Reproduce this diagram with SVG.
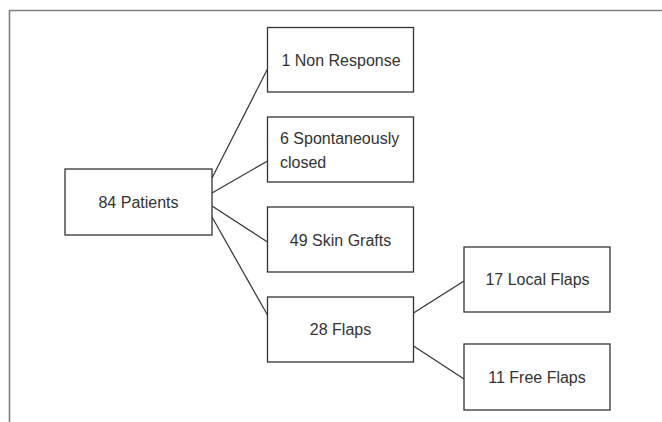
<svg xmlns="http://www.w3.org/2000/svg" width="662" height="422" viewBox="0 0 662 422">
<style>
.box{fill:#fff;stroke:#333;stroke-width:1.3}
.lbl{font-family:"Liberation Sans",Arial,sans-serif;font-size:16px;fill:#333}
.c{text-anchor:middle}
.conn line{stroke:#333;stroke-width:1.2}
</style>
<rect width="662" height="422" fill="#fff"/>
<path d="M9.5,422 V10.5 H662" fill="none" stroke="#808080" stroke-width="1.6"/>
<g id="connectors" class="conn">
<line x1="212" y1="178" x2="267.5" y2="69"/>
<line x1="212" y1="193" x2="267.5" y2="161"/>
<line x1="212" y1="206" x2="267.5" y2="242"/>
<line x1="212" y1="217" x2="267.5" y2="315"/>
<line x1="413.5" y1="313" x2="464" y2="281"/>
<line x1="413.5" y1="346" x2="464" y2="379"/>
</g>
<g id="patients"><rect class="box" x="65" y="169" width="147" height="66"/><text class="lbl c" x="138.5" y="207.5">84 Patients</text></g>
<g id="nonresponse"><rect class="box" x="267.5" y="27.5" width="146" height="64.5"/><text class="lbl c" x="341" y="65.5">1 Non Response</text></g>
<g id="spontaneous"><rect class="box" x="267.5" y="117" width="146" height="65"/><text class="lbl" x="280" y="144.3">6 Spontaneously</text><text class="lbl" x="280" y="168.3">closed</text></g>
<g id="skingrafts"><rect class="box" x="267.5" y="207" width="146" height="65"/><text class="lbl c" x="340.5" y="245.5">49 Skin Grafts</text></g>
<g id="flaps"><rect class="box" x="267.5" y="297" width="146" height="65"/><text class="lbl c" x="340.5" y="335">28 Flaps</text></g>
<g id="localflaps"><rect class="box" x="464" y="247" width="146" height="65"/><text class="lbl c" x="537.5" y="284.7">17 Local Flaps</text></g>
<g id="freeflaps"><rect class="box" x="464" y="344" width="146" height="66"/><text class="lbl c" x="537" y="382.5">11 Free Flaps</text></g>
</svg>
